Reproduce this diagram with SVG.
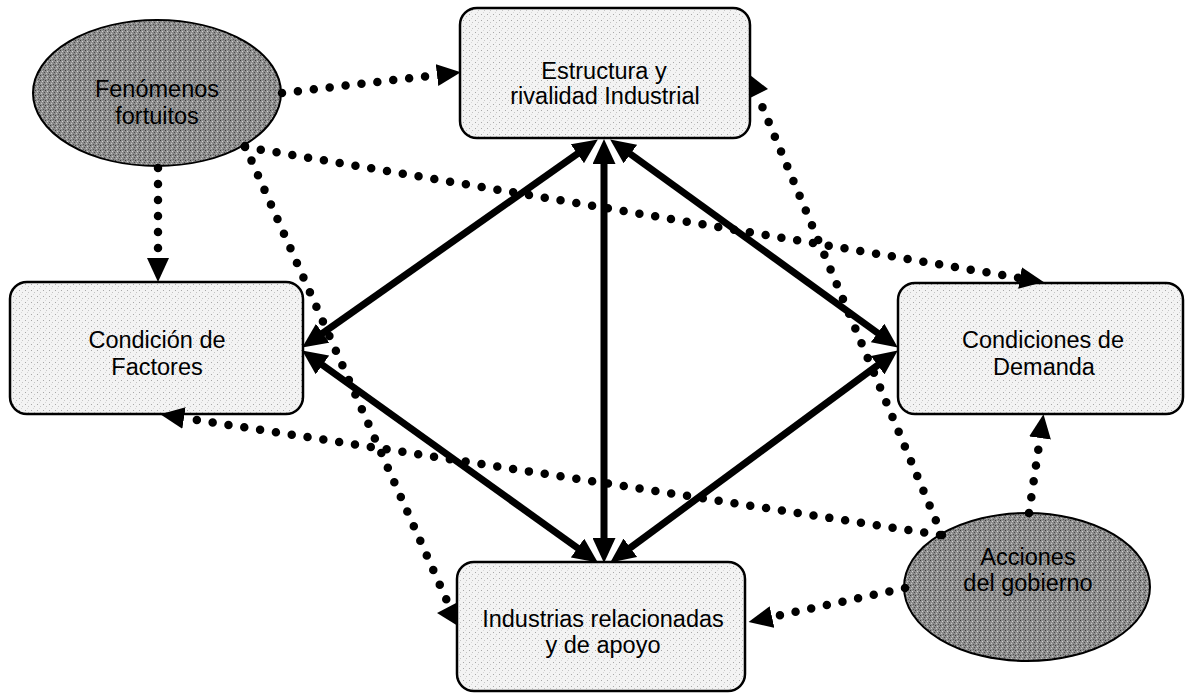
<svg xmlns="http://www.w3.org/2000/svg" width="1186" height="693" viewBox="0 0 1186 693">
<style>
.box{fill:url(#light);stroke:#000;stroke-width:2.5}
.ell{fill:url(#dark);stroke:#000;stroke-width:2}
.lbl{font-family:"Liberation Sans",Arial,sans-serif;font-size:23.5px;fill:#000;text-anchor:middle}
.solid{fill:none;stroke:#000;stroke-width:7;marker-start:url(#sh);marker-end:url(#sh)}
.dot{fill:none;stroke:#000;stroke-width:8.5;stroke-linecap:round;stroke-dasharray:0 16}
.dotm{marker-end:url(#dh)}
.head{fill:#000}
</style>
<defs>
<pattern id="light" width="6" height="6" patternUnits="userSpaceOnUse">
<rect width="6" height="6" fill="#f3f3f3"/>
<rect x="1" y="2" width="1" height="1" fill="#a8a8a8"/>
<rect x="4" y="4" width="1" height="1" fill="#c4c4c4"/>
<rect x="3" y="0" width="1" height="1" fill="#d8d8d8"/>
</pattern>
<pattern id="dark" width="5" height="5" patternUnits="userSpaceOnUse">
<rect width="5" height="5" fill="#8e8e8e"/>
<rect x="0" y="0" width="1" height="1" fill="#3c3c3c"/>
<rect x="2" y="1" width="1" height="1" fill="#d0d0d0"/>
<rect x="4" y="2" width="1" height="1" fill="#4a4a4a"/>
<rect x="1" y="3" width="1" height="1" fill="#c4c4c4"/>
<rect x="3" y="4" width="1" height="1" fill="#555555"/>
</pattern>
<marker id="sh" viewBox="0 0 25 23" refX="12" refY="11.5" markerWidth="25" markerHeight="23" markerUnits="userSpaceOnUse" orient="auto-start-reverse">
<path d="M0,0 L25,11.5 L0,23 Z" fill="#000"/>
</marker>
<marker id="dh" viewBox="0 0 24 22" refX="0" refY="11" markerWidth="24" markerHeight="22" markerUnits="userSpaceOnUse" orient="auto">
<path d="M0,0 L24,11 L0,22 Z" fill="#000"/>
</marker>
</defs>

<g id="fenomenos">
<ellipse class="ell" cx="157" cy="93" rx="124" ry="73"/>
<text class="lbl" x="157" y="97">Fenómenos</text>
<text class="lbl" x="157" y="124">fortuitos</text>
</g>
<g id="estructura">
<rect class="box" x="460" y="8" width="290" height="130" rx="17"/>
<text class="lbl" x="604" y="79">Estructura y</text>
<text class="lbl" x="605" y="104">rivalidad Industrial</text>
</g>
<g id="factores">
<rect class="box" x="10" y="282" width="293" height="132" rx="17"/>
<text class="lbl" x="157" y="348">Condición de</text>
<text class="lbl" x="157" y="375">Factores</text>
</g>
<g id="demanda">
<rect class="box" x="898" y="283" width="285" height="131" rx="17"/>
<text class="lbl" x="1043" y="348">Condiciones de</text>
<text class="lbl" x="1044" y="375">Demanda</text>
</g>
<g id="industrias">
<rect class="box" x="457" y="562" width="288" height="129" rx="17"/>
<text class="lbl" x="603" y="627">Industrias relacionadas</text>
<text class="lbl" x="603" y="653">y de apoyo</text>
</g>
<g id="gobierno">
<ellipse class="ell" cx="1027" cy="587" rx="123" ry="74"/>
<text class="lbl" x="1028" y="565">Acciones</text>
<text class="lbl" x="1028" y="591">del gobierno</text>
</g>

<g id="connectors">
<path class="solid" d="M312.8,340.1 L587.2,146.9"/>
<path class="solid" d="M620.7,147 L887.3,340"/>
<path class="solid" d="M604,152 L604,550"/>
<path class="solid" d="M312.7,358 L587.3,555"/>
<path class="solid" d="M887.3,358.1 L620.7,554.9"/>

<path class="dot dotm" d="M282,93 L437,75"/>
<path class="dot dotm" d="M158,168 L158,258"/>
<path class="dot dotm" d="M245,147 L1020,278"/>
<path class="dot" d="M245,146 L447,601"/>
<polygon class="head" points="437,613 458,602 458,626"/>
<path class="dot dotm" d="M940,535 L184,418"/>
<path class="dot dotm" d="M1029,513 L1040,438"/>
<path class="dot dotm" d="M905,588 L772,617"/>
<path class="dot" d="M942,535 L762,106"/>
<polygon class="head" points="750,75 768,89 750,98"/>
</g>
</svg>
